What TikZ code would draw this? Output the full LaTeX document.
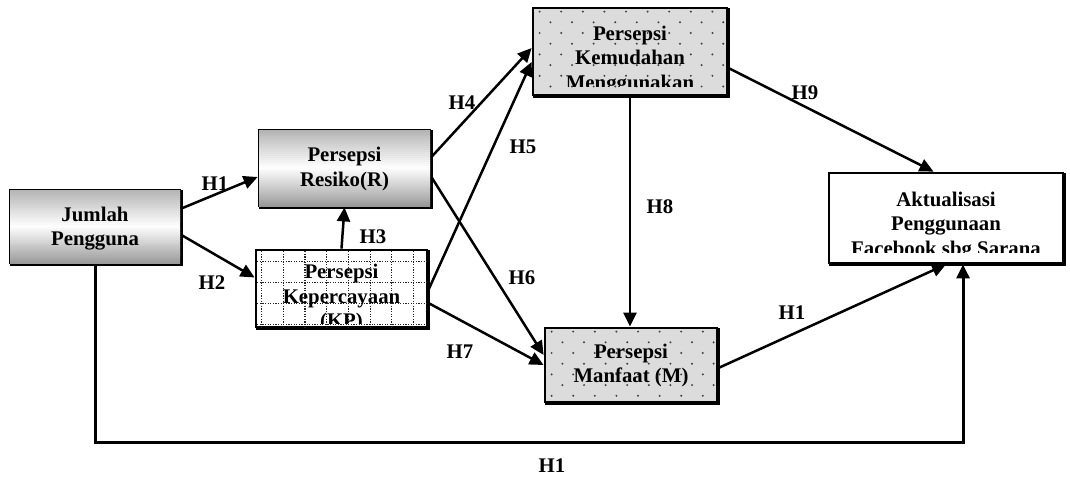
\documentclass[tikz,border=0pt]{standalone}
\usepackage{fontspec}
\setmainfont{Liberation Serif}
\usetikzlibrary{arrows.meta,calc}

\definecolor{dotgray}{HTML}{404040}
\definecolor{boxgray}{HTML}{DCDCDC}

\newcommand\boxfont{\fontsize{20.8pt}{24.5pt}\selectfont\bfseries}

% staggered dot texture inside a box
\newcommand\speckle[1]{%
  \begin{scope}
    \clip ([shift={(1.4pt,-1.4pt)}]#1.north west) rectangle ([shift={(-1.4pt,1.4pt)}]#1.south east);
    \foreach \r in {0,...,9}{
      \foreach \c in {0,...,10}{
        \fill[dotgray] ([shift={({(8+21.6*\c+10.8*mod(\r,2))*1pt},{-(5+10.7*\r)*1pt})}]#1.north west) circle (1.1pt);
      }
    }
  \end{scope}}

% vertical grey-white-grey gradient built from thin strips
\newcommand\vgrad[1]{%
  \begin{scope}
    \clip ([shift={(1.4pt,-1.4pt)}]#1.north west) rectangle ([shift={(-1.4pt,1.4pt)}]#1.south east);
    \path (#1.north west) coordinate (gtl) (#1.south east) coordinate (gbr);
    \foreach \i in {0,...,39}{
      \pgfmathsetmacro\gp{\i<20 ? 30*(1-\i/19.5) : 40*(\i-19.5)/19.5}
      \pgfmathsetmacro\ga{\i/40}
      \pgfmathsetmacro\gb{(\i+1.4)/40}
      \fill[black!\gp] ($(gtl)!\ga!(gtl|-gbr)$) rectangle ($(gtl-|gbr)!\gb!(gbr)$);
    }
  \end{scope}}

\tikzset{
  box/.style={draw, line width=2.8pt, rectangle, inner sep=0pt,
    preaction={draw, line width=2.8pt, transform canvas={xshift=1.3pt,yshift=-1.3pt}}},
  txt/.style={font=\boxfont, align=center, inner sep=0pt},
  hlab/.style={font=\boxfont, inner sep=0pt},
  arr/.style={line width=2.5pt, -{Triangle[length=14pt,width=13pt]}},
  gridline/.style={line width=1.1pt, black!85, dash pattern=on 1.1pt off 1.5pt},
}

\begin{document}
\begin{tikzpicture}[x=1pt,y=-1pt]
\useasboundingbox[fill=white] (0,0) rectangle (1070,479);

% boxes
\node[box, fill=white, minimum width=170pt, minimum height=73pt] (J) at (95,226.5) {};
\node[box, fill=white, minimum width=171pt, minimum height=76pt] (R) at (344.5,168) {};
\node[box, fill=white, minimum width=171pt, minimum height=77pt] (KP) at (341.5,288.5) {};
\node[box, fill=boxgray, minimum width=194pt, minimum height=87pt] (KM) at (630,51.5) {};
\node[box, fill=boxgray, minimum width=172pt, minimum height=74pt] (M) at (631,365) {};
\node[box, fill=white, minimum width=234pt, minimum height=90pt] (A) at (946,218) {};

% fills and textures
\vgrad{J}
\vgrad{R}
\speckle{KM}
\speckle{M}
\begin{scope}
  \clip ([shift={(1.4pt,-1.4pt)}]KP.north west) rectangle ([shift={(-1.4pt,1.4pt)}]KP.south east);
  \foreach \k in {0,...,7}
    \draw[gridline] ([xshift={(7+21.7*\k)*1pt}]KP.north west) -- ([xshift={(7+21.7*\k)*1pt}]KP.south west);
  \foreach \k in {0,...,3}
    \draw[gridline] ([yshift={-(13+21*\k)*1pt}]KP.north west) -- ([yshift={-(13+21*\k)*1pt}]KP.north east);
\end{scope}

% box texts
\node[txt] (Jt) at (95,228.5) {Jumlah\\Pengguna};
\node[txt] (Rt) at (344.5,169) {Persepsi\\Resiko(R)};
\begin{scope}
  \clip ([shift={(1.4pt,-1.4pt)}]KP.north west) rectangle ([shift={(-1.4pt,5pt)}]KP.south east);
  \node[txt] (KPt) at (341.5,298) {Persepsi\\Kepercayaan\\(KP)};
\end{scope}
\begin{scope}
  \clip ([shift={(1.4pt,-1.4pt)}]KM.north west) rectangle ([shift={(-1.4pt,10pt)}]KM.south east);
  \node[txt] (KMt) at (630,59.8) {Persepsi\\Kemudahan\\Menggunakan};
\end{scope}
\node[txt] (Mt) at (631,365.5) {Persepsi\\Manfaat (M)};
\begin{scope}
  \clip ([shift={(1.4pt,-1.4pt)}]A.north west) rectangle ([shift={(-1.4pt,12pt)}]A.south east);
  \node[txt] (At) at (946,226) {Aktualisasi\\Penggunaan\\Facebook sbg Sarana};
\end{scope}

% connectors
\draw[arr] ([yshift=18pt]J.east) -- ([yshift=-9pt]R.west);
\draw[arr] ([yshift=-8.5pt]J.east) -- ([yshift=11pt]KP.west);
\draw[arr] (KP.north) -- (R.south);
\draw[arr] ([yshift=11pt]R.east) -- ([yshift=3.5pt]KM.west);
\draw[arr] ([yshift=-1.5pt]KP.east) -- ([yshift=-10.5pt]KM.west);
\draw[arr] ([yshift=-9pt]R.east) -- ([yshift=10pt]M.west);
\draw[arr] ([yshift=-14.5pt]KP.east) -- (M.west);
\draw[arr] (KM.south) -- (KM.south |- M.north);
\draw[arr] ([yshift=-16.5pt]KM.east) -- ([xshift=-12.5pt]A.north);
\draw[arr] ([yshift=-3pt]M.east) -- (A.south);
\coordinate (bl) at (95,442);
\coordinate (br) at (963,442);
\draw[arr, line width=3pt] (J.south) -- (bl) -- (br) -- (br |- A.south);

% hypothesis labels
\node[hlab] (h1a) at (215,184) {H1};
\node[hlab] (h2) at (212,283) {H2};
\node[hlab] (h3) at (373,237) {H3};
\node[hlab] (h4) at (462,103) {H4};
\node[hlab] (h5) at (523,147) {H5};
\node[hlab] (h6) at (522,278) {H6};
\node[hlab] (h7) at (460,352) {H7};
\node[hlab] (h8) at (660,207) {H8};
\node[hlab] (h9) at (805,93) {H9};
\node[hlab] (h1b) at (792,313) {H1};
\node[hlab] (h1c) at (552,466) {H1};
\end{tikzpicture}
\end{document}
